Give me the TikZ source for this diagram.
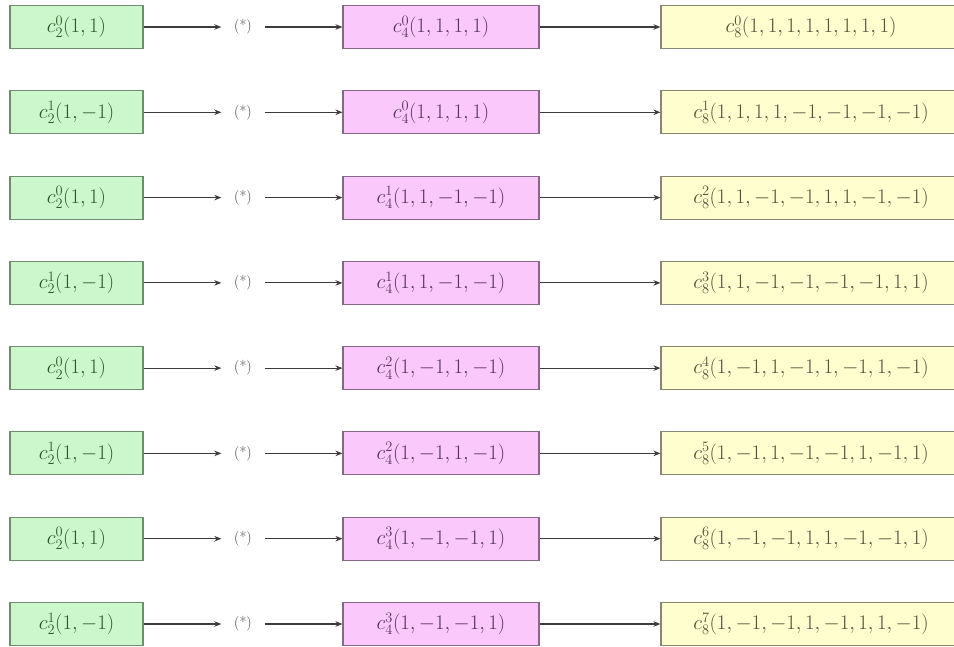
\documentclass[tikz,border=0pt]{standalone}
\usetikzlibrary{arrows.meta}

\definecolor{gfill}{RGB}{204,246,204}
\definecolor{gdraw}{RGB}{110,140,110}
\definecolor{gtext}{RGB}{40,90,40}
\definecolor{pfill}{RGB}{250,200,250}
\definecolor{pdraw}{RGB}{135,105,135}
\definecolor{ptext}{RGB}{85,50,95}
\definecolor{yfill}{RGB}{254,254,206}
\definecolor{ydraw}{RGB}{135,135,115}
\definecolor{ytext}{RGB}{80,80,60}
\definecolor{linkcol}{RGB}{60,60,60}

% one row of the spreading-code tree: SF2 code -> (*) -> SF4 code -> SF8 code
\newcommand\ovsfrow[5]{%
  \node[gbox] (g#1) at (76.5,#2) {$#3$};
  \node[opnode] (s#1) at (243,#2) {(*)};
  \node[pbox] (p#1) at (441,#2) {$#4$};
  \node[ybox] (y#1) at (811,#2) {$#5$};
  \draw[link] (g#1) -- (s#1);
  \draw[link] (s#1) -- (p#1);
  \draw[link] (p#1) -- (y#1);
}

\begin{document}
\begin{tikzpicture}[x=1pt,y=-1pt,
  codebox/.style={draw, line width=1.1pt, minimum height=43pt, inner sep=0pt,
    font=\fontsize{21}{24}\selectfont},
  gbox/.style={codebox, fill=gfill, draw=gdraw, text=gtext, minimum width=133pt},
  pbox/.style={codebox, fill=pfill, draw=pdraw, text=ptext, minimum width=196pt},
  ybox/.style={codebox, fill=yfill, draw=ydraw, text=ytext, minimum width=300pt},
  opnode/.style={inner sep=0pt, minimum width=43pt, text=black!75,
    font=\fontsize{15}{17}\selectfont},
  link/.style={draw=linkcol, line width=1.1pt, -{Stealth[length=7pt,width=5.5pt]}}
]
\useasboundingbox (0,0) rectangle (954,647);
\fill[white] (0,0) rectangle (954,647);

\ovsfrow{1}{27}{c_2^0(1,1)}{c_4^0(1,1,1,1)}{c_8^0(1,1,1,1,1,1,1,1)}
\ovsfrow{2}{112.3}{c_2^1(1,-1)}{c_4^0(1,1,1,1)}{c_8^1(1,1,1,1,-1,-1,-1,-1)}
\ovsfrow{3}{197.6}{c_2^0(1,1)}{c_4^1(1,1,-1,-1)}{c_8^2(1,1,-1,-1,1,1,-1,-1)}
\ovsfrow{4}{282.9}{c_2^1(1,-1)}{c_4^1(1,1,-1,-1)}{c_8^3(1,1,-1,-1,-1,-1,1,1)}
\ovsfrow{5}{368.1}{c_2^0(1,1)}{c_4^2(1,-1,1,-1)}{c_8^4(1,-1,1,-1,1,-1,1,-1)}
\ovsfrow{6}{453.4}{c_2^1(1,-1)}{c_4^2(1,-1,1,-1)}{c_8^5(1,-1,1,-1,-1,1,-1,1)}
\ovsfrow{7}{538.7}{c_2^0(1,1)}{c_4^3(1,-1,-1,1)}{c_8^6(1,-1,-1,1,1,-1,-1,1)}
\ovsfrow{8}{624}{c_2^1(1,-1)}{c_4^3(1,-1,-1,1)}{c_8^7(1,-1,-1,1,-1,1,1,-1)}
\end{tikzpicture}
\end{document}
